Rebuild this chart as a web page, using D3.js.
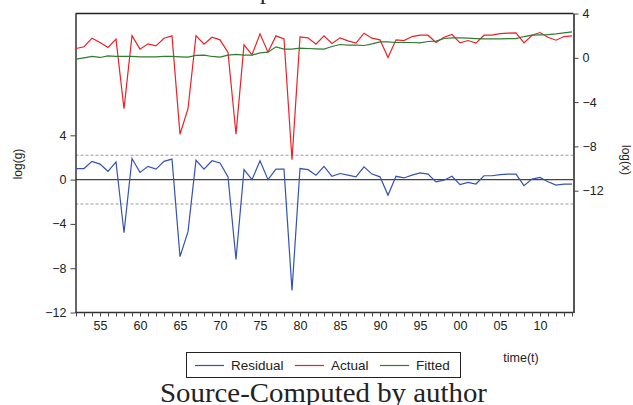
<!DOCTYPE html>
<html>
  <head>
  <script src="https://cdnjs.cloudflare.com/ajax/libs/d3/7.8.5/d3.min.js" charset="utf-8"></script>
  <style>
    body { margin: 0; background: #fff; }
    svg text { font-family: "Liberation Sans", Arial, sans-serif; fill: #222; }
  </style>
  </head>
  <body>
    <div id = "chart"></div>
	<script type="text/javascript">

		// years 1952..2014
		years = d3.range(1952, 2015);

		residual = [1.0,1.0,1.65,1.4,0.75,1.6,-4.8,1.9,0.65,1.2,0.95,1.65,1.85,-6.95,-4.7,1.75,0.95,1.7,1.5,0.25,
			-7.2,0.9,0.0,1.7,0.0,0.95,0.95,-10.0,1.0,0.9,0.4,1.2,0.3,0.55,0.4,0.25,1.15,0.5,0.25,-1.4,
			0.3,0.15,0.4,0.6,0.5,-0.2,-0.05,0.3,-0.45,-0.25,-0.4,0.35,0.35,0.45,0.5,0.5,-0.55,0.05,0.2,-0.2,
			-0.5,-0.4,-0.4];

		actual = [0.84,1.0,1.77,1.38,0.93,1.68,-4.6,2.0,0.78,1.26,1.08,1.77,1.98,-6.9,-4.6,2.0,1.23,1.86,1.62,0.48,
			-6.9,1.17,0.27,2.16,0.51,1.98,1.71,-9.2,1.89,1.8,1.23,1.98,1.29,1.8,1.53,1.32,2.22,1.77,1.62,0.03,
			1.62,1.55,1.92,2.04,2.04,1.38,1.86,2.1,1.35,1.56,1.32,2.04,2.04,2.19,2.22,2.25,1.35,2.04,2.28,1.86,
			1.59,1.92,1.98];

		fitted = [-0.12,0.0,0.12,0.03,0.18,0.12,0.12,0.12,0.09,0.09,0.09,0.12,0.12,0.09,0.06,0.21,0.24,0.12,0.06,0.24,
			0.3,0.24,0.24,0.45,0.51,0.99,0.78,0.78,0.87,0.84,0.81,0.78,1.02,1.2,1.14,1.14,1.11,1.26,1.44,1.44,
			1.38,1.38,1.38,1.35,1.47,1.5,1.74,1.8,1.8,1.77,1.74,1.71,1.71,1.71,1.74,1.74,1.92,2.04,2.07,2.1,
			2.16,2.25,2.34];

		residualTicks = [-12,-8,-4,0,4];
		levelTicks = [-12,-8,-4,0,4];
		yearTicks = d3.range(1955, 2015, 5);
		bandLimit = 2.2;

		legendNames = ["Residual","Actual","Fitted"];
		lineColors = ["#3553b0","#ec2027","#2e7d32"];

		var width = 633;
		var height = 405;
		var pLeft = 75.5, pRight = 573.5, pTop = 13.5, pBottom = 312.5;

		svg = d3.select("#chart")
		.append("svg")
		.attr("width", width)
		.attr("height", height);

		x = d3.scaleLinear().domain([1952, 2014]).range([76, 572]);
		yLeft = d3.scaleLinear().domain([-12, 15]).range([pBottom, pTop]);
		yRight = d3.scaleLinear().domain([-23, 4]).range([pBottom, pTop]);

		// title, mostly cut off at the top
		svg.append("text")
			.attr("x", 170)
			.attr("y", -1)
			.style("font-family", "'Liberation Serif', serif")
			.style("font-size", "24px")
			.text("Residual plot");

		// frame top line
		svg.append("line")
			.attr("x1", pLeft).attr("x2", pRight)
			.attr("y1", pTop).attr("y2", pTop)
			.attr("stroke", "#222")
			.attr("stroke-width", 1.5);

		// residual band
		[bandLimit, -bandLimit].forEach(function(v){
			svg.append("line")
				.attr("x1", pLeft).attr("x2", pRight)
				.attr("y1", yLeft(v)).attr("y2", yLeft(v))
				.attr("stroke", "#9a9a9a")
				.attr("stroke-width", 1)
				.attr("stroke-dasharray", "3,2");
		});
		svg.append("line")
			.attr("x1", pLeft).attr("x2", pRight)
			.attr("y1", yLeft(0)).attr("y2", yLeft(0))
			.attr("stroke", "#444")
			.attr("stroke-width", 1.2);

		// axes
		axL = svg.append("g")
			.attr("transform", "translate(" + pLeft + ",0)")
			.call(d3.axisLeft(yLeft).tickValues(residualTicks).tickSize(5).tickSizeOuter(0).tickPadding(4));
		axR = svg.append("g")
			.attr("transform", "translate(" + pRight + ",0)")
			.call(d3.axisRight(yRight).tickValues(levelTicks).tickSize(5).tickSizeOuter(0).tickPadding(4));
		axB = svg.append("g")
			.attr("transform", "translate(0," + pBottom + ")")
			.call(d3.axisBottom(x).tickValues(years).tickSize(4).tickSizeOuter(0).tickPadding(5)
				.tickFormat(function(d){ return yearTicks.indexOf(d) >= 0 ? d3.format("02d")(d % 100) : ""; }));

		[axL, axR, axB].forEach(function(a){
			a.selectAll("text").style("font-size", "12.5px").attr("fill", "#222");
			a.selectAll("line").attr("stroke", "#444");
			a.select(".domain").attr("stroke", "#333").attr("stroke-width", 1.5);
		});
		axR.select(".domain").attr("stroke", "#555").attr("stroke-width", 2);
		axB.select(".domain").attr("d", "M" + pLeft + ",0H" + pRight);

		// series
		var lineL = d3.line().x(function(d,i){ return x(years[i]); }).y(function(d){ return yLeft(d); });
		var lineR = d3.line().x(function(d,i){ return x(years[i]); }).y(function(d){ return yRight(d); });

		svg.append("path").datum(residual)
			.attr("d", lineL).attr("fill", "none")
			.attr("stroke", lineColors[0]).attr("stroke-width", 1.2);
		svg.append("path").datum(actual)
			.attr("d", lineR).attr("fill", "none")
			.attr("stroke", lineColors[1]).attr("stroke-width", 1.2);
		svg.append("path").datum(fitted)
			.attr("d", lineR).attr("fill", "none")
			.attr("stroke", lineColors[2]).attr("stroke-width", 1.2);

		// axis titles
		svg.append("text")
			.attr("transform", "translate(22,164) rotate(-90)")
			.attr("text-anchor", "middle")
			.style("font-size", "12px")
			.text("log(g)");
		svg.append("text")
			.attr("transform", "translate(622,160) rotate(90)")
			.attr("text-anchor", "middle")
			.style("font-size", "12px")
			.text("log(x)");
		svg.append("text")
			.attr("x", 521).attr("y", 362)
			.attr("text-anchor", "middle")
			.style("font-size", "12.5px")
			.text("time(t)");

		// legend
		legend = svg.append("g");
		legend.append("rect")
			.attr("x", 186.5).attr("y", 352.5)
			.attr("width", 274).attr("height", 25)
			.attr("fill", "#fff")
			.attr("stroke", "#222")
			.attr("stroke-width", 1);
		legendX = [195, 295, 380];
		legendNames.forEach(function(n, i){
			legend.append("line")
				.attr("x1", legendX[i]).attr("x2", legendX[i] + 29)
				.attr("y1", 365.5).attr("y2", 365.5)
				.attr("stroke", lineColors[i]).attr("stroke-width", 1.2);
			legend.append("text")
				.attr("x", legendX[i] + 36).attr("y", 370)
				.style("font-size", "13.5px")
				.text(n);
		});

		// source line
		svg.append("text")
			.attr("x", 160).attr("y", 402)
			.attr("textLength", 327)
			.attr("lengthAdjust", "spacingAndGlyphs")
			.style("font-family", "'Liberation Serif', serif")
			.style("font-size", "27px")
			.text("Source-Computed by author");

	</script>
  </body>
</html>
